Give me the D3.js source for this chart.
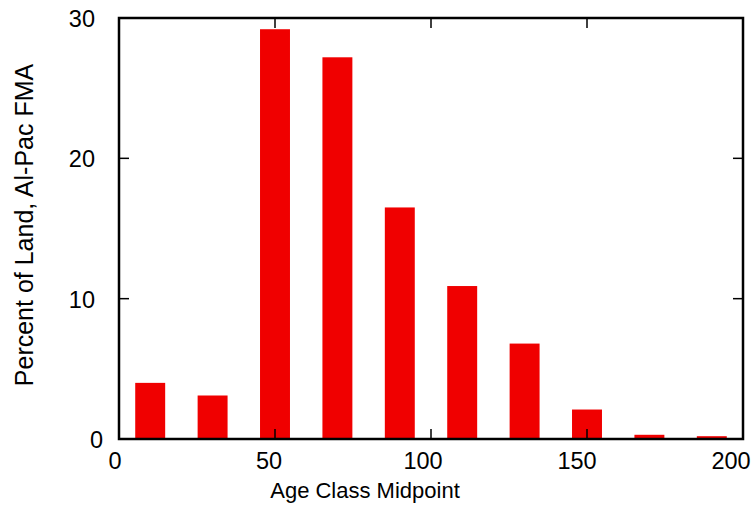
<!DOCTYPE html>
<html lang="en">
<head>
<meta charset="UTF-8">
<title>Age Class Distribution</title>
<script src="https://cdnjs.cloudflare.com/ajax/libs/d3/7.8.5/d3.min.js"></script>
<style>
  body { margin: 0; background: #fff; }
  text { font-family: "Liberation Sans", Arial, sans-serif; fill: #000; }
  .tick-label { font-size: 23.5px; }
</style>
</head>
<body>
<div id="chart"></div>
<script>
// age class midpoints and percent of land
const midpoints = [10, 30, 50, 70, 90, 110, 130, 150, 170, 190];
const percents = [4.0, 3.1, 29.2, 27.2, 16.5, 10.9, 6.8, 2.1, 0.3, 0.2];
const xTicks = [0, 50, 100, 150, 200];
const yTicks = [0, 10, 20, 30];

const width = 755, height = 506;
const margin = {top: 18, right: 12, bottom: 67, left: 119};

const svg = d3.select("#chart").append("svg")
    .attr("width", width)
    .attr("height", height);

const x = d3.scaleLinear().domain([0, 200]).range([margin.left, width - margin.right]);
const y = d3.scaleLinear().domain([0, 30]).range([height - margin.bottom, margin.top]);
// the x tick labels drift slightly left of their ticks in the original
const xLab = d3.scaleLinear().domain([0, 200]).range([115, 731]);

const barW = 9.6; // in data units

// bars
svg.selectAll(".bar")
    .data(midpoints)
    .enter()
    .append("rect")
    .attr("class", "bar")
    .attr("x", d => x(d - barW / 2))
    .attr("width", x(barW) - x(0))
    .attr("y", (d, i) => y(percents[i]))
    .attr("height", (d, i) => y(0) - y(percents[i]))
    .attr("fill", "#f00000");

// inward ticks on all four sides
const tickLen = 10;
const g = svg.append("g").attr("stroke", "#000").attr("stroke-width", 1.5);
xTicks.slice(1, -1).forEach(t => {
    g.append("line").attr("x1", x(t)).attr("x2", x(t)).attr("y1", y(0)).attr("y2", y(0) - tickLen);
    g.append("line").attr("x1", x(t)).attr("x2", x(t)).attr("y1", y(30)).attr("y2", y(30) + tickLen);
});
yTicks.slice(1, -1).forEach(t => {
    g.append("line").attr("x1", x(0)).attr("x2", x(0) + tickLen).attr("y1", y(t)).attr("y2", y(t));
    g.append("line").attr("x1", x(200)).attr("x2", x(200) - tickLen).attr("y1", y(t)).attr("y2", y(t));
});

// frame
svg.append("rect")
    .attr("x", x(0))
    .attr("y", y(30))
    .attr("width", x(200) - x(0))
    .attr("height", y(0) - y(30))
    .attr("fill", "none")
    .attr("stroke", "#000")
    .attr("stroke-width", 2.5);

// tick labels
svg.selectAll(".xlab")
    .data(xTicks)
    .enter()
    .append("text")
    .attr("class", "tick-label")
    .attr("x", d => xLab(d))
    .attr("y", y(0) + 30)
    .attr("text-anchor", "middle")
    .text(d => d);

svg.selectAll(".ylab")
    .data(yTicks)
    .enter()
    .append("text")
    .attr("class", "tick-label")
    .attr("x", d => d === 0 ? x(0) - 16 : x(0) - 24)
    .attr("y", d => y(d) + 9)
    .attr("text-anchor", "end")
    .text(d => d);

// axis titles
svg.append("text")
    .attr("x", 365)
    .attr("y", 498)
    .attr("text-anchor", "middle")
    .style("font-size", "22px")
    .text("Age Class Midpoint");

svg.append("text")
    .attr("transform", `translate(33, 225) rotate(-90)`)
    .attr("text-anchor", "middle")
    .style("font-size", "25px")
    .text("Percent of Land, Al-Pac FMA");
</script>
</body>
</html>
